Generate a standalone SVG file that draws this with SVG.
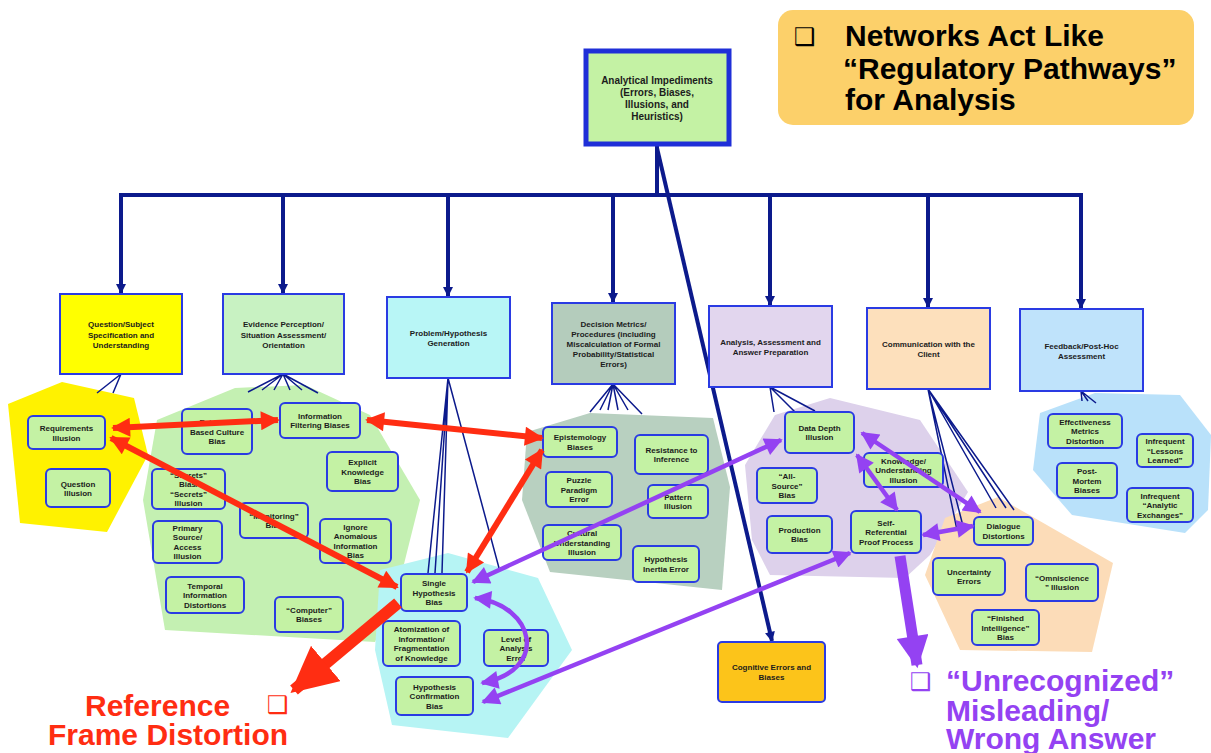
<svg xmlns="http://www.w3.org/2000/svg" width="1211" height="753" viewBox="0 0 1211 753">
<style>
.t{font-family:"Liberation Sans",Arial,sans-serif;font-weight:bold;font-size:8px;text-anchor:middle;fill:#1c1c1c}
.rt{font-size:10px}
.lf{fill:#c4f2a4;stroke:#2a3be3;stroke-width:2}
.cat{stroke:#2a3be3;stroke-width:2}
.bus{stroke:#0c1a8c;stroke-width:4;fill:none}
.fan{stroke:#0c1a8c;stroke-width:1.5;fill:none}
.red{stroke:#ff2d12;stroke-width:6;fill:none;marker-start:url(#rh);marker-end:url(#rh)}
.pur{stroke:#9442f2;stroke-width:4.5;fill:none;marker-start:url(#ph);marker-end:url(#ph)}
.big{font-family:"Liberation Sans",Arial,sans-serif;font-weight:bold;font-size:30px}
.box{font-family:"DejaVu Sans",sans-serif;font-size:24px}
</style>
<defs>
<marker id="nh" viewBox="0 0 10 10" refX="9" refY="5" markerWidth="11" markerHeight="10" markerUnits="userSpaceOnUse" orient="auto"><path d="M0,0 L10,5 L0,10 z" fill="#0c1a8c"/></marker>
<marker id="rh" viewBox="0 0 10 10" refX="9" refY="5" markerWidth="28" markerHeight="19" markerUnits="userSpaceOnUse" orient="auto-start-reverse"><path d="M0,0 L10,5 L0,10 z" fill="#ff2d12"/></marker>
<marker id="ph" viewBox="0 0 10 10" refX="9" refY="5" markerWidth="24" markerHeight="18" markerUnits="userSpaceOnUse" orient="auto-start-reverse"><path d="M0,0 L10,5 L0,10 z" fill="#9442f2"/></marker>
<marker id="rbig" viewBox="0 0 10 10" refX="9" refY="5" markerWidth="46" markerHeight="46" markerUnits="userSpaceOnUse" orient="auto"><path d="M0,0 L10,5 L0,10 z" fill="#ff2d12"/></marker>
<marker id="pbig" viewBox="0 0 10 10" refX="9" refY="5" markerWidth="46" markerHeight="32" markerUnits="userSpaceOnUse" orient="auto"><path d="M0,0 L10,5 L0,10 z" fill="#9442f2"/></marker>
</defs>
<rect width="1211" height="753" fill="#ffffff"/>

<g id="callout">
<rect x="778" y="10" width="416" height="115" rx="15" fill="#fcd06a"/>
<text class="box" x="794" y="45" fill="#000">❑</text>
<text class="big" fill="#000"><tspan x="845" y="46">Networks Act Like</tspan><tspan x="843" y="79">“Regulatory Pathways”</tspan><tspan x="845" y="110">for Analysis</tspan></text>
</g>

<g id="clusters">
<polygon points="8,404 62,382 134,398 148,455 107,532 20,523" fill="#fff200"/>
<polygon points="157,420 235,388 305,385 370,415 420,500 395,600 375,642 165,630 143,500" fill="#c4f0b2"/>
<polygon points="380,570 448,553 538,578 572,650 508,738 392,725 375,650" fill="#b6f4f4"/>
<polygon points="527,432 590,413 713,418 730,487 722,590 550,572 522,500" fill="#b8d0c0"/>
<polygon points="745,465 775,415 830,398 920,420 968,492 930,555 905,578 770,575 752,540" fill="#ddd1eb"/>
<polygon points="945,518 998,497 1113,563 1092,652 960,650 925,575" fill="#fcdcb8"/>
<polygon points="1040,413 1095,393 1180,395 1211,435 1208,510 1185,533 1072,515 1033,470" fill="#b9e1fa"/>
</g>

<g id="connectors">
<path class="bus" d="M657,145 V195 M119,195 H1083"/>
<path class="bus" marker-end="url(#nh)" d="M121,195 V293"/>
<path class="bus" marker-end="url(#nh)" d="M283,195 V293"/>
<path class="bus" marker-end="url(#nh)" d="M448,195 V296"/>
<path class="bus" marker-end="url(#nh)" d="M613,195 V302"/>
<path class="bus" marker-end="url(#nh)" d="M770,195 V305"/>
<path class="bus" marker-end="url(#nh)" d="M928,195 V307"/>
<path class="bus" marker-end="url(#nh)" d="M1081,195 V308"/>
<path class="bus" stroke-width="3.5" marker-end="url(#nh)" d="M657,148 L772,641"/>
<path class="fan" d="M121,374 L97,393 M121,374 L113,393"/>
<path class="fan" d="M283,374 L248,392 M283,374 L262,390 M283,374 L274,390 M283,374 L290,390 M283,374 L302,390 M283,374 L318,393"/>
<path class="fan" d="M448,378 L428,573 M448,378 L435,573 M448,378 L442,573 M448,378 L499,568"/>
<path class="fan" d="M613,384 L590,412 M613,384 L600,410 M613,384 L608,410 M613,384 L618,410 M613,384 L628,410 M613,384 L642,414"/>
<path class="fan" d="M770,387 L774,412 M770,387 L795,412 M770,387 L815,411"/>
<path class="fan" d="M928,389 L957,530 M928,389 L964,530 M928,389 L996,508 M928,389 L1006,508 M928,389 L1014,510"/>
<path class="fan" d="M1081,391 L1082,401 M1081,391 L1088,401 M1081,391 L1096,403"/>
</g>

<g id="root">
<rect x="586" y="51" width="143" height="93" fill="#c4f2a4" stroke="#1f2fd8" stroke-width="5"/>
<text class="t rt"><tspan x="657" y="83.5">Analytical Impediments</tspan><tspan x="657" y="95.5">(Errors, Biases,</tspan><tspan x="657" y="107.5">Illusions, and</tspan><tspan x="657" y="119.5">Heuristics)</tspan></text>
</g>

<g id="cat-question"><rect class="cat" x="60" y="294" width="122" height="80" fill="#ffff00"/>
<text class="t"><tspan x="121" y="327">Question/Subject</tspan><tspan x="121" y="337.5">Specification and</tspan><tspan x="121" y="348">Understanding</tspan></text></g>
<g id="cat-evidence"><rect class="cat" x="223" y="294" width="121" height="80" fill="#c8f2c2"/>
<text class="t"><tspan x="283.5" y="327">Evidence Perception/</tspan><tspan x="283.5" y="337.5">Situation Assessment/</tspan><tspan x="283.5" y="348">Orientation</tspan></text></g>
<g id="cat-problem"><rect class="cat" x="387" y="297" width="123" height="81" fill="#b8f6f6"/>
<text class="t"><tspan x="448.5" y="335.5">Problem/Hypothesis</tspan><tspan x="448.5" y="346">Generation</tspan></text></g>
<g id="cat-decision"><rect class="cat" x="552" y="303" width="123" height="81" fill="#b4ccbc"/>
<text class="t"><tspan x="613.5" y="327">Decision Metrics/</tspan><tspan x="613.5" y="337">Procedures  (including</tspan><tspan x="613.5" y="347">Miscalculation of Formal</tspan><tspan x="613.5" y="357">Probability/Statistical</tspan><tspan x="613.5" y="367">Errors)</tspan></text></g>
<g id="cat-analysis"><rect class="cat" x="709" y="306" width="123" height="81" fill="#e2d6ee"/>
<text class="t"><tspan x="770.5" y="345">Analysis, Assessment and</tspan><tspan x="770.5" y="355">Answer Preparation</tspan></text></g>
<g id="cat-communication"><rect class="cat" x="867" y="308" width="123" height="81" fill="#fde0bc"/>
<text class="t"><tspan x="928.5" y="347">Communication with the</tspan><tspan x="928.5" y="357">Client</tspan></text></g>
<g id="cat-feedback"><rect class="cat" x="1020" y="309" width="123" height="82" fill="#bfe3fb"/>
<text class="t"><tspan x="1081.5" y="349">Feedback/Post-Hoc</tspan><tspan x="1081.5" y="359">Assessment</tspan></text></g>
<g id="cat-cognitive"><rect class="cat" x="718" y="642" width="107" height="60" rx="4" fill="#fcc41a"/>
<text class="t"><tspan x="771.5" y="670">Cognitive Errors and</tspan><tspan x="771.5" y="680">Biases</tspan></text></g>

<g id="n-requirements"><rect class="lf" x="28" y="416" width="77" height="33" rx="5"/><text class="t"><tspan x="66.5" y="431">Requirements</tspan><tspan x="66.5" y="440.5">Illusion</tspan></text></g>
<g id="n-question-illusion"><rect class="lf" x="46" y="469" width="64" height="38" rx="5"/><text class="t"><tspan x="78" y="486.5">Question</tspan><tspan x="78" y="496">Illusion</tspan></text></g>

<g id="n-evidence-culture"><rect class="lf" x="182" y="409" width="70" height="45" rx="5"/><text class="t"><tspan x="217" y="425">Evidence</tspan><tspan x="217" y="434.5">Based Culture</tspan><tspan x="217" y="444">Bias</tspan></text></g>
<g id="n-info-filtering"><rect class="lf" x="280" y="403" width="80" height="35" rx="5"/><text class="t"><tspan x="320" y="418.5">Information</tspan><tspan x="320" y="428">Filtering  Biases</tspan></text></g>
<g id="n-explicit"><rect class="lf" x="327" y="452" width="71" height="39" rx="5"/><text class="t"><tspan x="362.5" y="465">Explicit</tspan><tspan x="362.5" y="474.5">Knowledge</tspan><tspan x="362.5" y="484">Bias</tspan></text></g>
<g id="n-secrets"><rect class="lf" x="152" y="469" width="73" height="40" rx="5"/><text class="t"><tspan x="188.5" y="477.5">“Secrets”</tspan><tspan x="188.5" y="487">Bias/</tspan><tspan x="188.5" y="496.5">“Secrets”</tspan><tspan x="188.5" y="506">Illusion</tspan></text></g>
<g id="n-monitoring"><rect class="lf" x="240" y="503" width="68" height="35" rx="5"/><text class="t"><tspan x="274" y="518.5">“Monitoring”</tspan><tspan x="274" y="528">Bias</tspan></text></g>
<g id="n-primary"><rect class="lf" x="153" y="521" width="69" height="42" rx="5"/><text class="t"><tspan x="187.5" y="530.5">Primary</tspan><tspan x="187.5" y="540">Source/</tspan><tspan x="187.5" y="549.5">Access</tspan><tspan x="187.5" y="559">Illusion</tspan></text></g>
<g id="n-ignore"><rect class="lf" x="320" y="519" width="71" height="44" rx="5"/><text class="t"><tspan x="355.5" y="529.5">Ignore</tspan><tspan x="355.5" y="539">Anomalous</tspan><tspan x="355.5" y="548.5">Information</tspan><tspan x="355.5" y="558">Bias</tspan></text></g>
<g id="n-temporal"><rect class="lf" x="166" y="577" width="78" height="36" rx="5"/><text class="t"><tspan x="205" y="588.5">Temporal</tspan><tspan x="205" y="598">Information</tspan><tspan x="205" y="607.5">Distortions</tspan></text></g>
<g id="n-computer"><rect class="lf" x="275" y="597" width="68" height="35" rx="5"/><text class="t"><tspan x="309" y="612.5">“Computer”</tspan><tspan x="309" y="622">Biases</tspan></text></g>

<g id="n-single"><rect class="lf" x="401" y="574" width="66" height="37" rx="5"/><text class="t"><tspan x="434" y="586">Single</tspan><tspan x="434" y="595.5">Hypothesis</tspan><tspan x="434" y="605">Bias</tspan></text></g>
<g id="n-atomization"><rect class="lf" x="383" y="621" width="77" height="45" rx="5"/><text class="t"><tspan x="421.5" y="632">Atomization of</tspan><tspan x="421.5" y="641.5">Information/</tspan><tspan x="421.5" y="651">Fragmentation</tspan><tspan x="421.5" y="660.5">of Knowledge</tspan></text></g>
<g id="n-level"><rect class="lf" x="484" y="630" width="64" height="36" rx="5"/><text class="t"><tspan x="516" y="641.5">Level of</tspan><tspan x="516" y="651">Analysis</tspan><tspan x="516" y="660.5">Error</tspan></text></g>
<g id="n-confirmation"><rect class="lf" x="396" y="677" width="77" height="38" rx="5"/><text class="t"><tspan x="434.5" y="689.5">Hypothesis</tspan><tspan x="434.5" y="699">Confirmation</tspan><tspan x="434.5" y="708.5">Bias</tspan></text></g>

<g id="n-epistemology"><rect class="lf" x="543" y="427" width="74" height="30" rx="5"/><text class="t"><tspan x="580" y="440">Epistemology</tspan><tspan x="580" y="449.5">Biases</tspan></text></g>
<g id="n-resistance"><rect class="lf" x="635" y="435" width="73" height="39" rx="5"/><text class="t"><tspan x="671.5" y="452.5">Resistance to</tspan><tspan x="671.5" y="462">Inference</tspan></text></g>
<g id="n-puzzle"><rect class="lf" x="546" y="472" width="66" height="35" rx="5"/><text class="t"><tspan x="579" y="483">Puzzle</tspan><tspan x="579" y="492.5">Paradigm</tspan><tspan x="579" y="502">Error</tspan></text></g>
<g id="n-pattern"><rect class="lf" x="648" y="485" width="60" height="33" rx="5"/><text class="t"><tspan x="678" y="499.5">Pattern</tspan><tspan x="678" y="509">Illusion</tspan></text></g>
<g id="n-cultural"><rect class="lf" x="543" y="525" width="78" height="35" rx="5"/><text class="t"><tspan x="582" y="536">Cultural</tspan><tspan x="582" y="545.5">Understanding</tspan><tspan x="582" y="555">Illusion</tspan></text></g>
<g id="n-inertia"><rect class="lf" x="633" y="546" width="66" height="36" rx="5"/><text class="t"><tspan x="666" y="562">Hypothesis</tspan><tspan x="666" y="571.5">Inertia Error</tspan></text></g>

<g id="n-datadepth"><rect class="lf" x="785" y="412" width="69" height="41" rx="5"/><text class="t"><tspan x="819.5" y="430.5">Data Depth</tspan><tspan x="819.5" y="440">Illusion</tspan></text></g>
<g id="n-allsource"><rect class="lf" x="757" y="468" width="60" height="35" rx="5"/><text class="t"><tspan x="787" y="479">“All-</tspan><tspan x="787" y="488.5">Source”</tspan><tspan x="787" y="498">Bias</tspan></text></g>
<g id="n-knowledge"><rect class="lf" x="864" y="453" width="79" height="34" rx="5"/><text class="t"><tspan x="903.5" y="463.5">Knowledge/</tspan><tspan x="903.5" y="473">Understanding</tspan><tspan x="903.5" y="482.5">Illusion</tspan></text></g>
<g id="n-production"><rect class="lf" x="767" y="516" width="65" height="37" rx="5"/><text class="t"><tspan x="799.5" y="532.5">Production</tspan><tspan x="799.5" y="542">Bias</tspan></text></g>
<g id="n-selfref"><rect class="lf" x="851" y="511" width="70" height="42" rx="5"/><text class="t"><tspan x="886" y="525.5">Self-</tspan><tspan x="886" y="535">Referential</tspan><tspan x="886" y="544.5">Proof Process</tspan></text></g>

<g id="n-dialogue"><rect class="lf" x="974" y="517" width="59" height="28" rx="5"/><text class="t"><tspan x="1003.5" y="529">Dialogue</tspan><tspan x="1003.5" y="538.5">Distortions</tspan></text></g>
<g id="n-uncertainty"><rect class="lf" x="933" y="558" width="72" height="37" rx="5"/><text class="t"><tspan x="969" y="574.5">Uncertainty</tspan><tspan x="969" y="584">Errors</tspan></text></g>
<g id="n-omniscience"><rect class="lf" x="1026" y="564" width="72" height="37" rx="5"/><text class="t"><tspan x="1062" y="580.5">“Omniscience</tspan><tspan x="1062" y="590">” Illusion</tspan></text></g>
<g id="n-finished"><rect class="lf" x="972" y="610" width="67" height="35" rx="5"/><text class="t"><tspan x="1005.5" y="621">“Finished</tspan><tspan x="1005.5" y="630.5">Intelligence”</tspan><tspan x="1005.5" y="640">Bias</tspan></text></g>

<g id="n-effectiveness"><rect class="lf" x="1048" y="414" width="74" height="34" rx="5"/><text class="t"><tspan x="1085" y="424.5">Effectiveness</tspan><tspan x="1085" y="434">Metrics</tspan><tspan x="1085" y="443.5">Distortion</tspan></text></g>
<g id="n-lessons"><rect class="lf" x="1137" y="434" width="56" height="33" rx="5"/><text class="t"><tspan x="1165" y="444">Infrequent</tspan><tspan x="1165" y="453.5">“Lessons</tspan><tspan x="1165" y="463">Learned”</tspan></text></g>
<g id="n-postmortem"><rect class="lf" x="1057" y="463" width="60" height="35" rx="5"/><text class="t"><tspan x="1087" y="474">Post-</tspan><tspan x="1087" y="483.5">Mortem</tspan><tspan x="1087" y="493">Biases</tspan></text></g>
<g id="n-analytic"><rect class="lf" x="1127" y="488" width="66" height="34" rx="5"/><text class="t"><tspan x="1160" y="498.5">Infrequent</tspan><tspan x="1160" y="508">“Analytic</tspan><tspan x="1160" y="517.5">Exchanges”</tspan></text></g>

<g id="arrows">
<path class="red" d="M113,428 L278,420"/>
<path class="red" d="M367,420 L542,438"/>
<path class="red" d="M542,450 L467,572"/>
<path class="red" d="M111,438 L397,587"/>
<path d="M398,603 L294,690" stroke="#ff2d12" stroke-width="12" fill="none" marker-end="url(#rbig)"/>
<path class="pur" d="M473,582 L781,440"/>
<path class="pur" d="M483,702 L850,553"/>
<path class="pur" d="M475,598 C535,605 550,670 482,683"/>
<path class="pur" d="M862,433 L980,512"/>
<path class="pur" d="M857,455 L897,510"/>
<path class="pur" d="M923,535 L973,526"/>
<path d="M900,556 L917,665" stroke="#9442f2" stroke-width="11" fill="none" marker-end="url(#pbig)"/>
</g>

<g id="labels">
<text class="big" x="85" y="716" fill="#ff2d12">Reference</text>
<text class="box" x="267" y="713" fill="#ff2d12">❑</text>
<text class="big" x="48" y="745" fill="#ff2d12">Frame Distortion</text>
<text class="box" x="910" y="690" fill="#9442f2">❑</text>
<text class="big" fill="#9442f2"><tspan x="946" y="691">“Unrecognized”</tspan><tspan x="946" y="721">Misleading/</tspan><tspan x="946" y="749">Wrong Answer</tspan></text>
</g>
</svg>
